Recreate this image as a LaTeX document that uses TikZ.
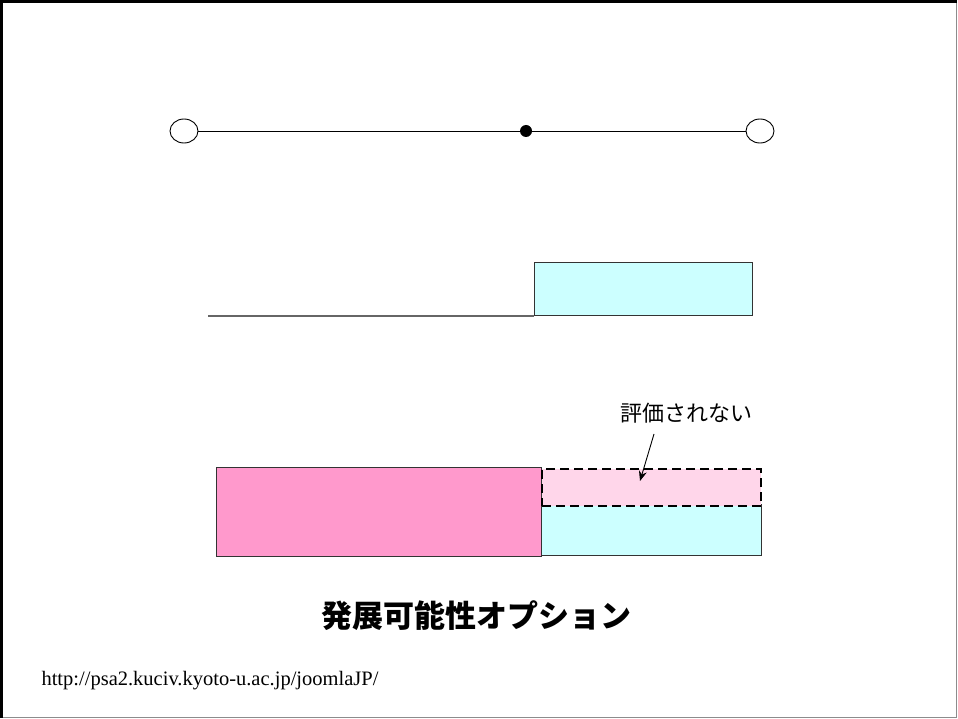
\documentclass[tikz,border=0pt]{standalone}
\usepackage{fontspec}
\setmainfont{Liberation Serif}
\newfontfamily\cjk{Noto Sans CJK JP}
\usetikzlibrary{arrows.meta,shapes.geometric}
\definecolor{cyanfill}{HTML}{CCFFFF}
\definecolor{pinkfill}{HTML}{FF99CC}
\definecolor{lightpink}{HTML}{FFD6EA}
\tikzset{
  openend/.style={draw=black, fill=white, ellipse, minimum width=28pt, minimum height=24pt, inner sep=0pt, line width=0.9pt},
  dotnode/.style={circle, fill=black, minimum size=12pt, inner sep=0pt},
  boxline/.style={draw=black!80, line width=1.2pt},
}
\begin{document}
\begin{tikzpicture}[x=1pt,y=-1pt]
\useasboundingbox (0,0) rectangle (958,719);
% frame
\draw[black!45, line width=1.5pt] (956.5,1) -- (956.5,717.5) -- (1,717.5);
\draw[black, line width=2.5pt] (1.5,718) -- (1.5,1.5) -- (957,1.5);
% top line
\node[openend] (l) at (184,131) {};
\node[openend] (r) at (760,131) {};
\node[dotnode] (m) at (526,131) {};
\draw[line width=0.9pt] (l) -- (m) -- (r);
% middle
\coordinate (ms) at (208,316);
\node[boxline, fill=cyanfill, minimum width=218pt, minimum height=53pt, anchor=south west, inner sep=0pt] (cb) at (534,316) {};
\draw[black!60, line width=1.2pt] (ms) -- (cb.south west);
% bottom
\node[boxline, fill=pinkfill, minimum width=325pt, minimum height=89pt, anchor=north west, inner sep=0pt] (pb) at (216,467) {};
\node[boxline, fill=cyanfill, minimum width=220pt, minimum height=51pt, anchor=south west, inner sep=0pt] (cb2) at (541,556) {};
\node[draw=black, dash pattern=on 9pt off 5pt, line width=2.4pt, fill=lightpink, minimum width=219pt, minimum height=37pt, anchor=north west, inner sep=0pt] (db) at (541,468) {};
\node[font=\cjk\fontsize{22pt}{24pt}\selectfont] (lab) at (686,413) {評価されない};
\coordinate (tip) at (640,481);
\draw[-{Stealth[length=10pt,width=8pt]}, line width=0.9pt] (654,434) -- (tip);
% title
\node[font=\cjk\bfseries\fontsize{31pt}{34pt}\selectfont] (title) at (476,616) {発展可能性オプション};
\node[anchor=west, font=\fontsize{20.5pt}{24pt}\selectfont] (url) at (38,681) {http://psa2.kuciv.kyoto-u.ac.jp/joomlaJP/};
\end{tikzpicture}
\end{document}
